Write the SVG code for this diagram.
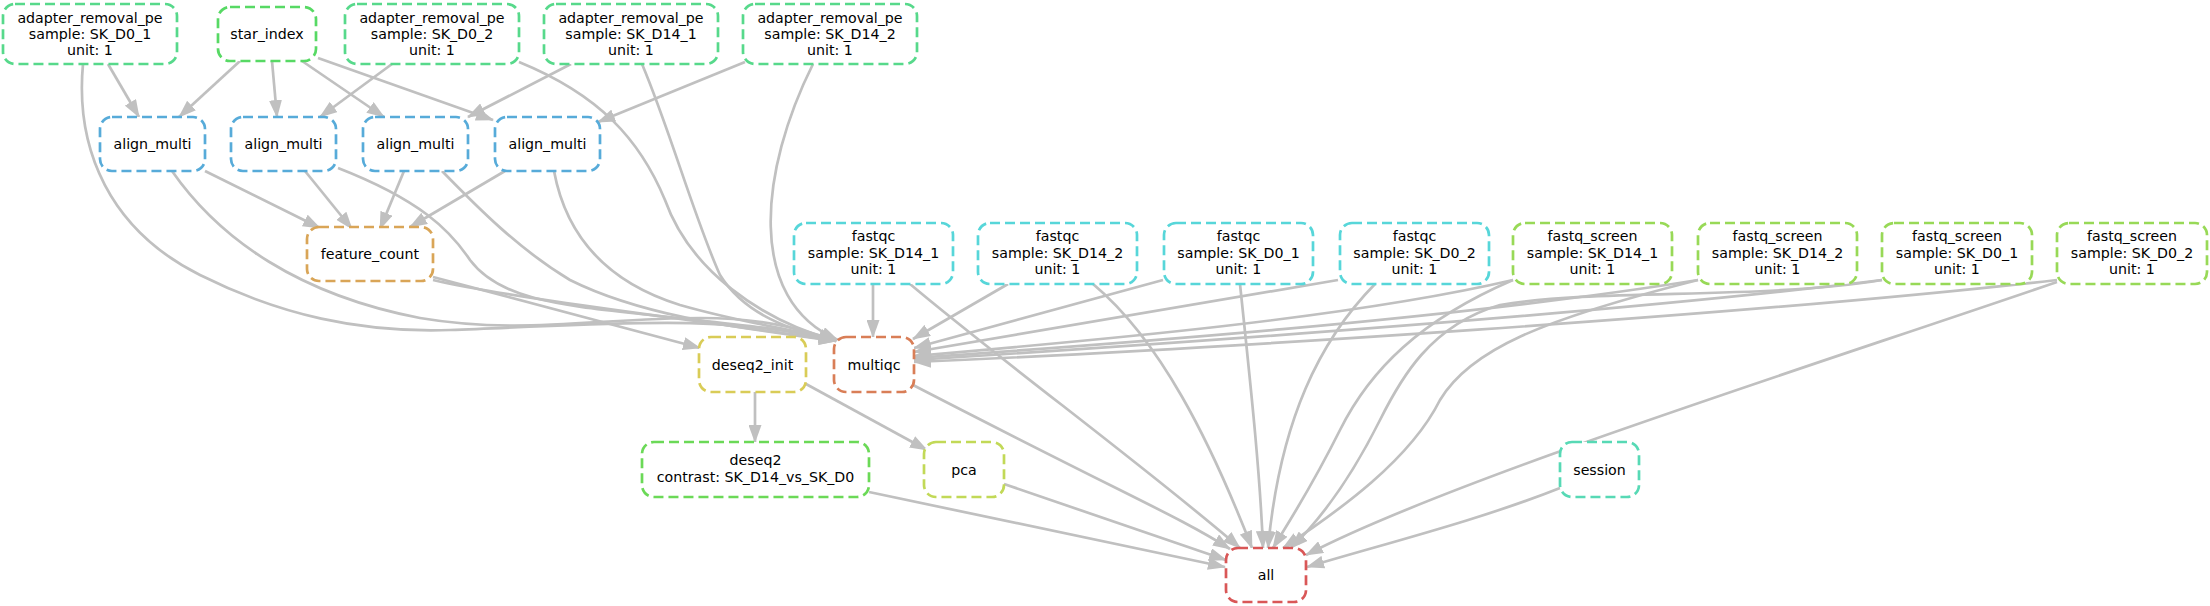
<svg xmlns="http://www.w3.org/2000/svg" width="2210" height="606" viewBox="0 0 2210 606">
<defs>
<marker id="ah" markerUnits="userSpaceOnUse" markerWidth="18" markerHeight="13" refX="17" refY="6.5" orient="auto" viewBox="0 0 18 13"><path d="M0,0 L18,6.5 L0,13 z" fill="#c0c0c0"/></marker>
</defs>
<style>
.e{fill:none;stroke:#c0c0c0;stroke-width:2.7;marker-end:url(#ah)}
.n{fill:#fff;stroke-width:2.7;stroke-dasharray:10,5}
text{font-family:"DejaVu Sans","Liberation Sans",sans-serif;font-size:14.2px;fill:#000;text-anchor:middle}
.ar{stroke:#57D98B}.st{stroke:#57D964}.am{stroke:#57ABD9}.fc{stroke:#D9A557}.di{stroke:#D9CC57}
.mq{stroke:#D97E57}.fq{stroke:#57D6D9}.fs{stroke:#98D957}.dq{stroke:#6BD957}.pc{stroke:#C2D957}
.se{stroke:#57D9B5}.al{stroke:#D95757}
</style>
<rect width="2210" height="606" fill="#fff"/>
<g id="edges">
<path class="e" d="M108,64 L139,117"/>
<path class="e" d="M240,61 L179,117"/>
<path class="e" d="M272,61 L277,117"/>
<path class="e" d="M302,61 L384,117"/>
<path class="e" d="M318,58 L493,120"/>
<path class="e" d="M392,64 L320,117"/>
<path class="e" d="M571,64 L468,117"/>
<path class="e" d="M745,62 L598,122"/>
<path class="e" d="M205,171 L320,228"/>
<path class="e" d="M305,171 L352,229"/>
<path class="e" d="M404,171 L380,229"/>
<path class="e" d="M505,171 L410,227"/>
<path class="e" d="M83,64 C75,150 110,230 200,275 C280,315 360,333 450,330 C600,325 720,312 836,341"/>
<path class="e" d="M172,171 C220,240 300,295 420,318 C520,335 600,318 700,318 C760,318 800,328 836,341"/>
<path class="e" d="M338,168 C420,200 450,230 470,260 C500,300 560,305 650,315 C740,325 800,330 836,341"/>
<path class="e" d="M442,171 C480,210 520,250 570,280 C650,320 760,330 836,341"/>
<path class="e" d="M554,171 C565,230 600,280 680,305 C750,325 800,330 836,341"/>
<path class="e" d="M519,62 C600,95 640,140 665,200 C690,270 760,320 836,341"/>
<path class="e" d="M642,64 C670,130 695,220 720,275 C745,315 790,330 836,341"/>
<path class="e" d="M813,64 C760,170 745,300 838,340"/>
<path class="e" d="M433,277 L700,348"/>
<path class="e" d="M433,280 C520,300 700,320 836,341"/>
<path class="e" d="M873,284 L873,337"/>
<path class="e" d="M1008,284 L913,339"/>
<path class="e" d="M1163,280 L914,348"/>
<path class="e" d="M1338,280 L914,352"/>
<path class="e" d="M1513,280 C1350,318 1100,340 914,356"/>
<path class="e" d="M1698,280 C1450,320 1100,345 914,358"/>
<path class="e" d="M1882,280 C1600,315 1150,345 914,360"/>
<path class="e" d="M2057,280 C1750,315 1200,350 914,362"/>
<path class="e" d="M755,392 L755,442"/>
<path class="e" d="M806,384 L927,450"/>
<path class="e" d="M913,385 C1000,430 1060,460 1120,490 C1170,515 1200,530 1230,549"/>
<path class="e" d="M910,284 C1000,360 1150,470 1240,548"/>
<path class="e" d="M1093,284 C1160,340 1210,440 1252,548"/>
<path class="e" d="M1240,284 C1250,380 1260,470 1263,548"/>
<path class="e" d="M1375,284 C1320,340 1280,420 1268,548"/>
<path class="e" d="M1513,280 C1420,320 1370,370 1340,430 C1310,490 1290,520 1273,548"/>
<path class="e" d="M1698,280 C1540,320 1470,350 1440,400 C1410,460 1340,510 1283,548"/>
<path class="e" d="M1882,280 C1760,300 1600,288 1500,305 C1430,325 1400,380 1380,420 C1350,480 1320,520 1291,548"/>
<path class="e" d="M2057,282 C1800,370 1450,480 1306,555"/>
<path class="e" d="M869,492 L1225,567"/>
<path class="e" d="M1004,484 L1226,560"/>
<path class="e" d="M1560,488 C1480,520 1380,545 1307,567"/>
</g>
<g id="adapter_removal_pe_SK_D0_1"><rect class="n ar" x="3" y="4" width="174" height="60" rx="12"/><text x="90" y="22.5">adapter_removal_pe</text><text x="90" y="38.5">sample: SK_D0_1</text><text x="90" y="54.5">unit: 1</text></g>
<g id="star_index"><rect class="n st" x="218" y="7" width="98" height="54" rx="12"/><text x="267" y="38.5">star_index</text></g>
<g id="adapter_removal_pe_SK_D0_2"><rect class="n ar" x="345" y="4" width="174" height="60" rx="12"/><text x="432" y="22.5">adapter_removal_pe</text><text x="432" y="38.5">sample: SK_D0_2</text><text x="432" y="54.5">unit: 1</text></g>
<g id="adapter_removal_pe_SK_D14_1"><rect class="n ar" x="544" y="4" width="174" height="60" rx="12"/><text x="631" y="22.5">adapter_removal_pe</text><text x="631" y="38.5">sample: SK_D14_1</text><text x="631" y="54.5">unit: 1</text></g>
<g id="adapter_removal_pe_SK_D14_2"><rect class="n ar" x="743" y="4" width="174" height="60" rx="12"/><text x="830" y="22.5">adapter_removal_pe</text><text x="830" y="38.5">sample: SK_D14_2</text><text x="830" y="54.5">unit: 1</text></g>
<g id="align_multi_1"><rect class="n am" x="100" y="117" width="105" height="54" rx="12"/><text x="152.5" y="149">align_multi</text></g>
<g id="align_multi_2"><rect class="n am" x="231" y="117" width="105" height="54" rx="12"/><text x="283.5" y="149">align_multi</text></g>
<g id="align_multi_3"><rect class="n am" x="363" y="117" width="105" height="54" rx="12"/><text x="415.5" y="149">align_multi</text></g>
<g id="align_multi_4"><rect class="n am" x="495" y="117" width="105" height="54" rx="12"/><text x="547.5" y="149">align_multi</text></g>
<g id="feature_count"><rect class="n fc" x="307" y="227" width="126" height="54" rx="12"/><text x="370" y="259">feature_count</text></g>
<g id="fastqc_SK_D14_1"><rect class="n fq" x="794" y="223" width="159" height="61" rx="12"/><text x="873.5" y="241">fastqc</text><text x="873.5" y="258">sample: SK_D14_1</text><text x="873.5" y="274">unit: 1</text></g>
<g id="fastqc_SK_D14_2"><rect class="n fq" x="978" y="223" width="159" height="61" rx="12"/><text x="1057.5" y="241">fastqc</text><text x="1057.5" y="258">sample: SK_D14_2</text><text x="1057.5" y="274">unit: 1</text></g>
<g id="fastqc_SK_D0_1"><rect class="n fq" x="1164" y="223" width="149" height="61" rx="12"/><text x="1238.5" y="241">fastqc</text><text x="1238.5" y="258">sample: SK_D0_1</text><text x="1238.5" y="274">unit: 1</text></g>
<g id="fastqc_SK_D0_2"><rect class="n fq" x="1340" y="223" width="149" height="61" rx="12"/><text x="1414.5" y="241">fastqc</text><text x="1414.5" y="258">sample: SK_D0_2</text><text x="1414.5" y="274">unit: 1</text></g>
<g id="fastq_screen_SK_D14_1"><rect class="n fs" x="1513" y="223" width="159" height="61" rx="12"/><text x="1592.5" y="241">fastq_screen</text><text x="1592.5" y="258">sample: SK_D14_1</text><text x="1592.5" y="274">unit: 1</text></g>
<g id="fastq_screen_SK_D14_2"><rect class="n fs" x="1698" y="223" width="159" height="61" rx="12"/><text x="1777.5" y="241">fastq_screen</text><text x="1777.5" y="258">sample: SK_D14_2</text><text x="1777.5" y="274">unit: 1</text></g>
<g id="fastq_screen_SK_D0_1"><rect class="n fs" x="1882" y="223" width="150" height="61" rx="12"/><text x="1957" y="241">fastq_screen</text><text x="1957" y="258">sample: SK_D0_1</text><text x="1957" y="274">unit: 1</text></g>
<g id="fastq_screen_SK_D0_2"><rect class="n fs" x="2057" y="223" width="150" height="61" rx="12"/><text x="2132" y="241">fastq_screen</text><text x="2132" y="258">sample: SK_D0_2</text><text x="2132" y="274">unit: 1</text></g>
<g id="deseq2_init"><rect class="n di" x="699" y="337" width="107" height="55" rx="12"/><text x="752.5" y="369.5">deseq2_init</text></g>
<g id="multiqc"><rect class="n mq" x="834" y="337" width="80" height="55" rx="12"/><text x="874" y="369.5">multiqc</text></g>
<g id="deseq2"><rect class="n dq" x="642" y="442" width="227" height="55" rx="12"/><text x="755.5" y="465">deseq2</text><text x="755.5" y="482">contrast: SK_D14_vs_SK_D0</text></g>
<g id="pca"><rect class="n pc" x="924" y="442" width="80" height="55" rx="12"/><text x="964" y="474.5">pca</text></g>
<g id="session"><rect class="n se" x="1560" y="442" width="79" height="55" rx="12"/><text x="1599.5" y="474.5">session</text></g>
<g id="all"><rect class="n al" x="1226" y="548" width="80" height="54" rx="12"/><text x="1266" y="580">all</text></g>
</svg>
